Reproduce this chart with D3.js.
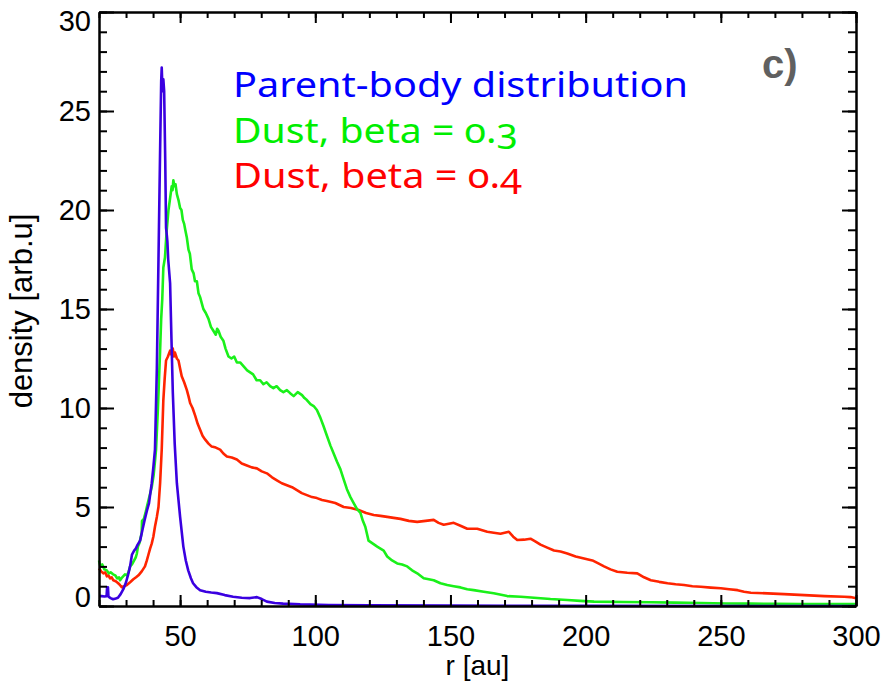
<!DOCTYPE html>
<html>
<head>
<meta charset="utf-8">
<script src="https://cdn.jsdelivr.net/npm/d3@7"></script>
<style>
  body { margin: 0; background: #fff; }
  .tick text { font-family: "Liberation Sans", Arial, sans-serif; fill: #000; }
  .legend { font-family: "Noto Sans", sans-serif; font-variant-numeric: oldstyle-nums; font-feature-settings: "onum" 1; }
</style>
</head>
<body>
<div class="chart"></div>
<script>
// data: r [au] and density [arb.u]
var parentR = [20.0, 21.0, 22.0, 22.8, 23.0, 23.3, 23.5, 24.3, 25.2, 26.2, 27.0, 28.0, 29.0, 30.0, 30.8, 31.5, 32.2, 33.0, 33.6, 34.3, 35.2, 36.0, 36.8, 37.7, 38.5, 39.0, 39.5, 40.1, 40.7, 41.4, 42.0, 42.6, 43.0, 43.2, 43.5, 43.8, 44.1, 44.5, 44.8, 45.1, 45.3, 45.6, 46.3, 46.8, 47.3, 48.0, 48.8, 50.0, 51.2, 52.1, 53.0, 54.0, 54.8, 56.0, 57.4, 59.5, 61.5, 63.6, 66.5, 69.6, 72.8, 75.9, 78.4, 80.2, 82.1, 85.0, 88.1, 94.4, 105, 120, 150, 200, 300];
var parentDensity = [0.5, 0.5, 0.48, 0.5, 0.95, 0.95, 0.47, 0.4, 0.34, 0.38, 0.42, 0.6, 0.85, 1.2, 1.6, 2.0, 2.6, 2.8, 2.9, 3.1, 3.3, 3.8, 4.3, 4.8, 5.2, 5.7, 6.2, 7.0, 7.9, 12.0, 17.5, 23.0, 26.5, 27.2, 26.0, 26.6, 26.0, 22.5, 19.1, 18.7, 18.4, 17.5, 16.3, 13.5, 10.8, 8.2, 6.2, 4.5, 3.0, 2.3, 1.8, 1.4, 1.15, 0.95, 0.8, 0.72, 0.68, 0.65, 0.55, 0.47, 0.42, 0.4, 0.45, 0.35, 0.22, 0.15, 0.12, 0.08, 0.05, 0.03, 0.02, 0.01, 0.0];

var beta03R = [20.0, 20.5, 21.2, 22.0, 22.9, 23.6, 24.3, 25.2, 26.0, 26.7, 27.4, 27.8, 28.6, 29.6, 30.3, 30.9, 31.5, 32.2, 33.0, 33.6, 34.0, 34.4, 35.0, 35.8, 35.9, 36.6, 37.2, 37.7, 38.6, 39.5, 40.2, 40.7, 41.1, 41.8, 42.6, 43.0, 43.4, 43.8, 44.4, 45.0, 45.7, 46.3, 46.9, 47.2, 47.5, 47.9, 48.3, 48.8, 49.4, 50.0, 50.5, 51.0, 51.5, 51.9, 52.5, 53.1, 53.6, 54.3, 55.0, 55.5, 56.2, 56.8, 57.4, 58.0, 58.6, 59.5, 60.5, 61.4, 62.3, 63.2, 63.7, 64.2, 65.0, 66.0, 66.8, 67.9, 69.0, 70.0, 71.0, 72.2, 73.5, 74.8, 75.9, 77.0, 78.3, 79.6, 80.8, 82.0, 83.3, 84.5, 85.7, 87.0, 88.2, 89.5, 90.7, 92.0, 93.5, 95.1, 96.0, 96.9, 98.2, 99.4, 100.6, 101.9, 103.0, 104.3, 105.6, 106.8, 108.0, 109.3, 110.5, 111.7, 113.0, 114.2, 115.4, 116.7, 117.6, 118.5, 119.7, 121.3, 122.9, 124.1, 125.3, 126.6, 128.4, 130.3, 132.1, 134.0, 135.8, 137.7, 140.1, 143.8, 146.3, 148.8, 151.2, 153.7, 156.2, 158.6, 162.3, 166.0, 171.0, 176.0, 180.9, 187.0, 193.2, 198.0, 203.1, 214.0, 224.1, 233.0, 242.6, 252.0, 261.1, 270.0, 279.6, 290, 300];
var beta03Density = [2.3, 2.0, 2.1, 1.85, 1.8, 1.65, 1.7, 1.6, 1.55, 1.4, 1.45, 1.3, 1.45, 1.6, 1.55, 1.7, 2.0, 2.1, 2.3, 2.45, 2.65, 3.0, 3.2, 3.7, 4.3, 4.4, 4.7, 5.0, 5.5, 6.0, 6.6, 7.3, 7.9, 10.0, 12.9, 14.5, 15.5, 17.1, 17.6, 18.9, 20.0, 20.6, 21.2, 21.0, 21.5, 21.2, 21.3, 20.8, 20.5, 20.1, 20.0, 19.5, 19.3, 19.0, 18.6, 18.0, 17.8, 17.0, 16.8, 16.4, 16.4, 15.8, 15.6, 15.3, 15.0, 14.8, 14.5, 14.1, 13.9, 13.7, 14.0, 13.9, 13.6, 13.4, 13.0, 12.6, 12.5, 12.6, 12.3, 12.3, 12.1, 11.9, 11.8, 11.7, 11.4, 11.4, 11.2, 11.3, 11.1, 11.0, 11.1, 10.9, 10.8, 10.9, 10.75, 10.6, 10.8, 10.65, 10.5, 10.4, 10.2, 10.1, 9.9, 9.5, 9.1, 8.6, 8.1, 7.7, 7.3, 6.9, 6.4, 5.9, 5.5, 5.2, 4.9, 4.7, 4.3, 4.0, 3.3, 3.15, 3.0, 2.9, 2.8, 2.5, 2.3, 2.15, 2.1, 2.0, 1.8, 1.65, 1.4, 1.3, 1.15, 1.06, 1.0, 0.94, 0.85, 0.8, 0.72, 0.64, 0.5, 0.47, 0.42, 0.35, 0.3, 0.26, 0.22, 0.2, 0.19, 0.17, 0.15, 0.13, 0.12, 0.11, 0.1, 0.1, 0.1];

var beta04R = [20.0, 20.8, 21.6, 22.3, 22.9, 23.5, 24.1, 24.7, 25.3, 26.2, 27.1, 27.8, 28.4, 29.3, 30.3, 31.5, 32.7, 33.7, 34.6, 35.8, 37.0, 37.7, 38.3, 38.9, 39.5, 40.1, 40.7, 41.4, 42.0, 42.6, 43.2, 43.8, 44.3, 44.8, 45.5, 46.3, 46.8, 47.3, 47.7, 48.1, 48.8, 49.4, 50.0, 50.6, 51.5, 52.5, 53.1, 53.7, 54.6, 55.6, 56.5, 57.4, 58.3, 59.3, 60.5, 61.7, 63.2, 64.8, 66.0, 67.3, 69.1, 71.0, 72.8, 74.7, 76.5, 78.4, 80.2, 82.1, 84.0, 85.8, 87.6, 89.5, 91.4, 93.2, 95.0, 96.9, 98.8, 100.6, 102.5, 104.3, 107.4, 110.5, 113.2, 116.0, 118.8, 121.6, 124.1, 126.6, 129.0, 131.5, 134.6, 137.7, 140.8, 143.8, 145.6, 147.5, 149.4, 151.2, 153.7, 156.2, 159.9, 163.6, 166.0, 168.5, 171.6, 173.2, 174.7, 177.2, 179.6, 181.5, 183.3, 185.8, 188.3, 190.7, 193.2, 196.3, 199.4, 202.5, 204.7, 206.8, 209.2, 211.7, 215.4, 219.1, 221.6, 224.1, 227.2, 230.3, 233.3, 236.4, 239.5, 242.6, 246.3, 250.0, 253.1, 256.2, 258.6, 261.1, 267.3, 273.4, 280.9, 288.3, 295.7, 298, 300];
var beta04Density = [1.9, 1.75, 1.65, 1.7, 1.5, 1.55, 1.4, 1.45, 1.3, 1.25, 1.15, 1.05, 0.95, 1.0, 1.06, 1.2, 1.35, 1.45, 1.55, 1.75, 2.0, 2.3, 2.6, 2.9, 3.15, 3.5, 4.0, 4.5, 5.0, 6.2, 7.9, 10.4, 11.5, 12.4, 12.6, 12.9, 12.7, 13.0, 12.6, 12.8, 12.5, 12.4, 12.0, 11.6, 11.3, 10.9, 10.6, 10.25, 10.0, 9.6, 9.2, 8.9, 8.6, 8.4, 8.2, 8.05, 8.0, 7.9, 7.7, 7.55, 7.5, 7.4, 7.2, 7.1, 7.0, 6.95, 6.8, 6.7, 6.5, 6.35, 6.2, 6.1, 6.0, 5.85, 5.7, 5.6, 5.5, 5.45, 5.35, 5.3, 5.2, 5.0, 4.95, 4.85, 4.7, 4.6, 4.55, 4.5, 4.45, 4.4, 4.3, 4.25, 4.3, 4.35, 4.2, 4.1, 4.15, 4.2, 4.05, 3.9, 3.9, 3.75, 3.7, 3.65, 3.75, 3.5, 3.33, 3.35, 3.4, 3.25, 3.1, 2.95, 2.8, 2.75, 2.65, 2.5, 2.4, 2.3, 2.15, 2.0, 1.85, 1.73, 1.68, 1.65, 1.45, 1.3, 1.22, 1.15, 1.1, 1.06, 1.0, 0.97, 0.93, 0.9, 0.85, 0.8, 0.72, 0.67, 0.64, 0.6, 0.55, 0.5, 0.47, 0.45, 0.39];

var legendLabels = ["Parent-body distribution", "Dust, beta = 0.3", "Dust, beta = 0.4"];
var legendColors = ["#0000ff", "#00ee00", "#ff0000"];
var yMajorTicks = [0, 5, 10, 15, 20, 25, 30];
var xMajorTicks = [50, 100, 150, 200, 250, 300];

var svgWidth = 885;
var svgHeight = 686;
var margin = { top: 12, right: 29, bottom: 80, left: 99 };
var width = svgWidth - margin.left - margin.right;
var height = svgHeight - margin.top - margin.bottom;

var svg = d3.select(".chart")
  .append("svg")
  .attr("width", svgWidth)
  .attr("height", svgHeight);

var chart = svg.append("g")
  .attr("transform", "translate(" + margin.left + "," + margin.top + ")");

var xScale = d3.scaleLinear().domain([20, 300]).range([0, width]);
var yScale = d3.scaleLinear().domain([0, 30]).range([height, 0]);

// curves
var series = [
  { r: beta04R, d: beta04Density, color: "#ff2400" },
  { r: beta03R, d: beta03Density, color: "#1af01a" },
  { r: parentR, d: parentDensity, color: "#3a00e0" }
];

var line = d3.line()
  .x(function(p) { return xScale(p[0]); })
  .y(function(p) { return yScale(p[1]); });

series.forEach(function(s) {
  chart.append("path")
    .datum(d3.zip(s.r, s.d))
    .attr("fill", "none")
    .attr("stroke", s.color)
    .attr("stroke-width", 2.6)
    .attr("stroke-linejoin", "round")
    .attr("d", line);
});

// axes: ticks point inward on all four sides
function styleAxis(g) {
  g.selectAll(".tick line").attr("stroke", "#000").attr("stroke-width", 2);
  g.select(".domain").attr("stroke", "#000").attr("stroke-width", 2);
}

var yMinor = d3.range(0, 31, 1);
var xMinor = d3.range(20, 301, 10);

chart.append("g")
  .call(d3.axisLeft(yScale).tickValues(yMinor).tickSize(-8).tickSizeOuter(0).tickFormat(""))
  .call(styleAxis);
var leftAxis = chart.append("g")
  .call(d3.axisLeft(yScale).tickValues(yMajorTicks).tickSize(-15).tickSizeOuter(0).tickPadding(8))
  .call(styleAxis);
leftAxis.selectAll(".tick text")
  .attr("font-size", 29)
  .attr("font-family", "Liberation Sans, Arial, sans-serif")
  .attr("dy", function(v) {
    if (v === 0) return "0.0em";
    if (v === 30) return "0.65em";
    return "0.34em";
  });

chart.append("g")
  .attr("transform", "translate(" + width + ",0)")
  .call(d3.axisRight(yScale).tickValues(yMinor).tickSize(-8).tickSizeOuter(0).tickFormat(""))
  .call(styleAxis);
chart.append("g")
  .attr("transform", "translate(" + width + ",0)")
  .call(d3.axisRight(yScale).tickValues(yMajorTicks).tickSize(-14).tickSizeOuter(0).tickFormat(""))
  .call(styleAxis);

chart.append("g")
  .attr("transform", "translate(0," + height + ")")
  .call(d3.axisBottom(xScale).tickValues(xMinor).tickSize(-6).tickSizeOuter(0).tickFormat(""))
  .call(styleAxis);
var bottomAxis = chart.append("g")
  .attr("transform", "translate(0," + height + ")")
  .call(d3.axisBottom(xScale).tickValues(xMajorTicks).tickSize(-11).tickSizeOuter(0).tickPadding(19))
  .call(styleAxis);
bottomAxis.selectAll(".tick text")
  .attr("font-size", 29)
  .attr("font-family", "Liberation Sans, Arial, sans-serif");

chart.append("g")
  .call(d3.axisTop(xScale).tickValues(xMinor).tickSize(-6).tickSizeOuter(0).tickFormat(""))
  .call(styleAxis);
chart.append("g")
  .call(d3.axisTop(xScale).tickValues(xMajorTicks).tickSize(-11).tickSizeOuter(0).tickFormat(""))
  .call(styleAxis);

// axis titles
svg.append("text")
  .attr("x", margin.left + width / 2)
  .attr("y", 675)
  .attr("text-anchor", "middle")
  .attr("font-family", "Liberation Sans, Arial, sans-serif")
  .attr("font-size", 28)
  .text("r [au]");

svg.append("text")
  .attr("transform", "translate(32,311) rotate(-90)")
  .attr("text-anchor", "middle")
  .attr("font-family", "Liberation Sans, Arial, sans-serif")
  .attr("font-size", 31)
  .text("density [arb.u]");

// legend
var legendWidths = [455, 285, 289];
legendLabels.forEach(function(label, i) {
  svg.append("text")
    .attr("class", "legend")
    .attr("x", 233)
    .attr("y", 97 + i * 45.5)
    .attr("font-size", 35)
    .attr("fill", legendColors[i])
    .attr("textLength", legendWidths[i])
    .attr("lengthAdjust", "spacingAndGlyphs")
    .text(label);
});

// panel label
svg.append("text")
  .attr("x", 762)
  .attr("y", 78)
  .attr("font-family", "Liberation Sans, Arial, sans-serif")
  .attr("font-weight", "bold")
  .attr("font-size", 40)
  .attr("fill", "#606060")
  .text("c)");
</script>
</body>
</html>
